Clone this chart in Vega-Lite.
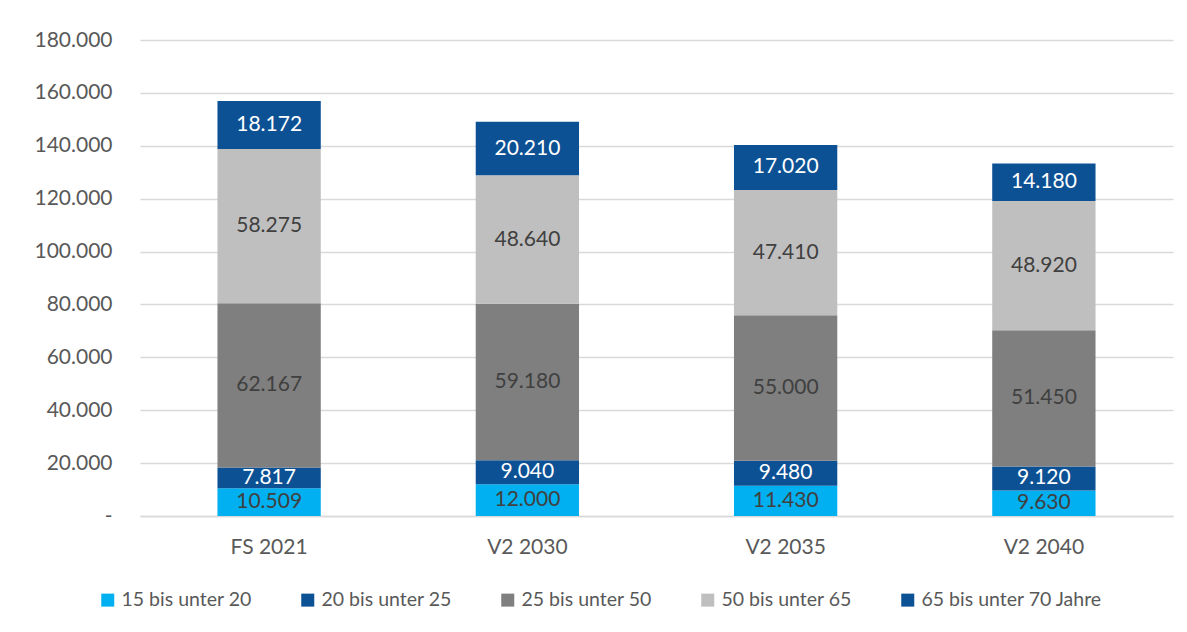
{
  "$schema": "https://vega.github.io/schema/vega-lite/v6.json",
  "autosize": "none",
  "width": 1033,
  "height": 476,
  "padding": {"left": 140, "top": 40, "right": 14, "bottom": 116},
  "background": "white",
  "config": {
    "locale": {"number": {"decimal": ",", "thousands": ".", "grouping": [3], "currency": ["", " €"]}},
    "view": {"stroke": null},
    "font": "Lato",
    "axis": {"labelFont": "Lato", "labelFontSize": 21, "labelColor": "#595959"},
    "legend": {"labelFont": "Lato"}
  },
  "data": {
    "values": [
      {"cat": "FS 2021", "series": "15 bis unter 20", "ord": 1, "value": 10509},
      {"cat": "FS 2021", "series": "20 bis unter 25", "ord": 2, "value": 7817},
      {"cat": "FS 2021", "series": "25 bis unter 50", "ord": 3, "value": 62167},
      {"cat": "FS 2021", "series": "50 bis unter 65", "ord": 4, "value": 58275},
      {"cat": "FS 2021", "series": "65 bis unter 70 Jahre", "ord": 5, "value": 18172},
      {"cat": "V2 2030", "series": "15 bis unter 20", "ord": 1, "value": 12000},
      {"cat": "V2 2030", "series": "20 bis unter 25", "ord": 2, "value": 9040},
      {"cat": "V2 2030", "series": "25 bis unter 50", "ord": 3, "value": 59180},
      {"cat": "V2 2030", "series": "50 bis unter 65", "ord": 4, "value": 48640},
      {"cat": "V2 2030", "series": "65 bis unter 70 Jahre", "ord": 5, "value": 20210},
      {"cat": "V2 2035", "series": "15 bis unter 20", "ord": 1, "value": 11430},
      {"cat": "V2 2035", "series": "20 bis unter 25", "ord": 2, "value": 9480},
      {"cat": "V2 2035", "series": "25 bis unter 50", "ord": 3, "value": 55000},
      {"cat": "V2 2035", "series": "50 bis unter 65", "ord": 4, "value": 47410},
      {"cat": "V2 2035", "series": "65 bis unter 70 Jahre", "ord": 5, "value": 17020},
      {"cat": "V2 2040", "series": "15 bis unter 20", "ord": 1, "value": 9630},
      {"cat": "V2 2040", "series": "20 bis unter 25", "ord": 2, "value": 9120},
      {"cat": "V2 2040", "series": "25 bis unter 50", "ord": 3, "value": 51450},
      {"cat": "V2 2040", "series": "50 bis unter 65", "ord": 4, "value": 48920},
      {"cat": "V2 2040", "series": "65 bis unter 70 Jahre", "ord": 5, "value": 14180}
    ]
  },
  "encoding": {
    "x": {
      "field": "cat", "type": "nominal", "title": null,
      "scale": {"paddingInner": 0.6, "paddingOuter": 0.3},
      "axis": {"labelAngle": 0, "ticks": false, "domainColor": "#D9D9D9", "domainWidth": 1.5, "labelPadding": 20}
    },
    "y": {
      "field": "value", "type": "quantitative", "title": null, "stack": "zero",
      "scale": {"domain": [0, 180000], "nice": false},
      "axis": {"values": [0, 20000, 40000, 60000, 80000, 100000, 120000, 140000, 160000, 180000],
               "format": ",.0f", "labelExpr": "datum.value == 0 ? '-\u00a0\u00a0\u00a0\u00a0' : datum.label",
               "domain": false, "ticks": false, "gridColor": "#D9D9D9", "gridWidth": 1.5, "labelPadding": 28}
    },
    "order": {"field": "ord", "type": "quantitative"}
  },
  "layer": [
    {
      "mark": {"type": "bar"},
      "encoding": {
        "color": {
          "field": "series", "type": "nominal",
          "scale": {
            "domain": ["15 bis unter 20", "20 bis unter 25", "25 bis unter 50", "50 bis unter 65", "65 bis unter 70 Jahre"],
            "range": ["#00B0F0", "#0D5195", "#7F7F7F", "#BFBFBF", "#0D5195"]
          },
          "sort": ["15 bis unter 20", "20 bis unter 25", "25 bis unter 50", "50 bis unter 65", "65 bis unter 70 Jahre"],
          "legend": {
            "title": null, "orient": "none", "legendX": -42, "legendY": 550,
            "direction": "horizontal", "columns": 5, "symbolType": "square", "symbolSize": 169,
            "symbolStrokeWidth": 0, "labelFontSize": 19.5, "labelColor": "#595959",
            "labelOffset": 4, "columnPadding": 46, "labelLimit": 400
          }
        }
      }
    },
    {
      "mark": {"type": "text", "fontSize": 21, "font": "Lato"},
      "encoding": {
        "y": {"field": "value", "type": "quantitative", "stack": "zero", "bandPosition": 0.5},
        "text": {"field": "value", "type": "quantitative", "format": ",.0f"},
        "color": {
          "condition": {"test": "datum.series == '20 bis unter 25' || datum.series == '65 bis unter 70 Jahre'", "value": "#FFFFFF"},
          "value": "#404040"
        }
      }
    }
  ]
}
